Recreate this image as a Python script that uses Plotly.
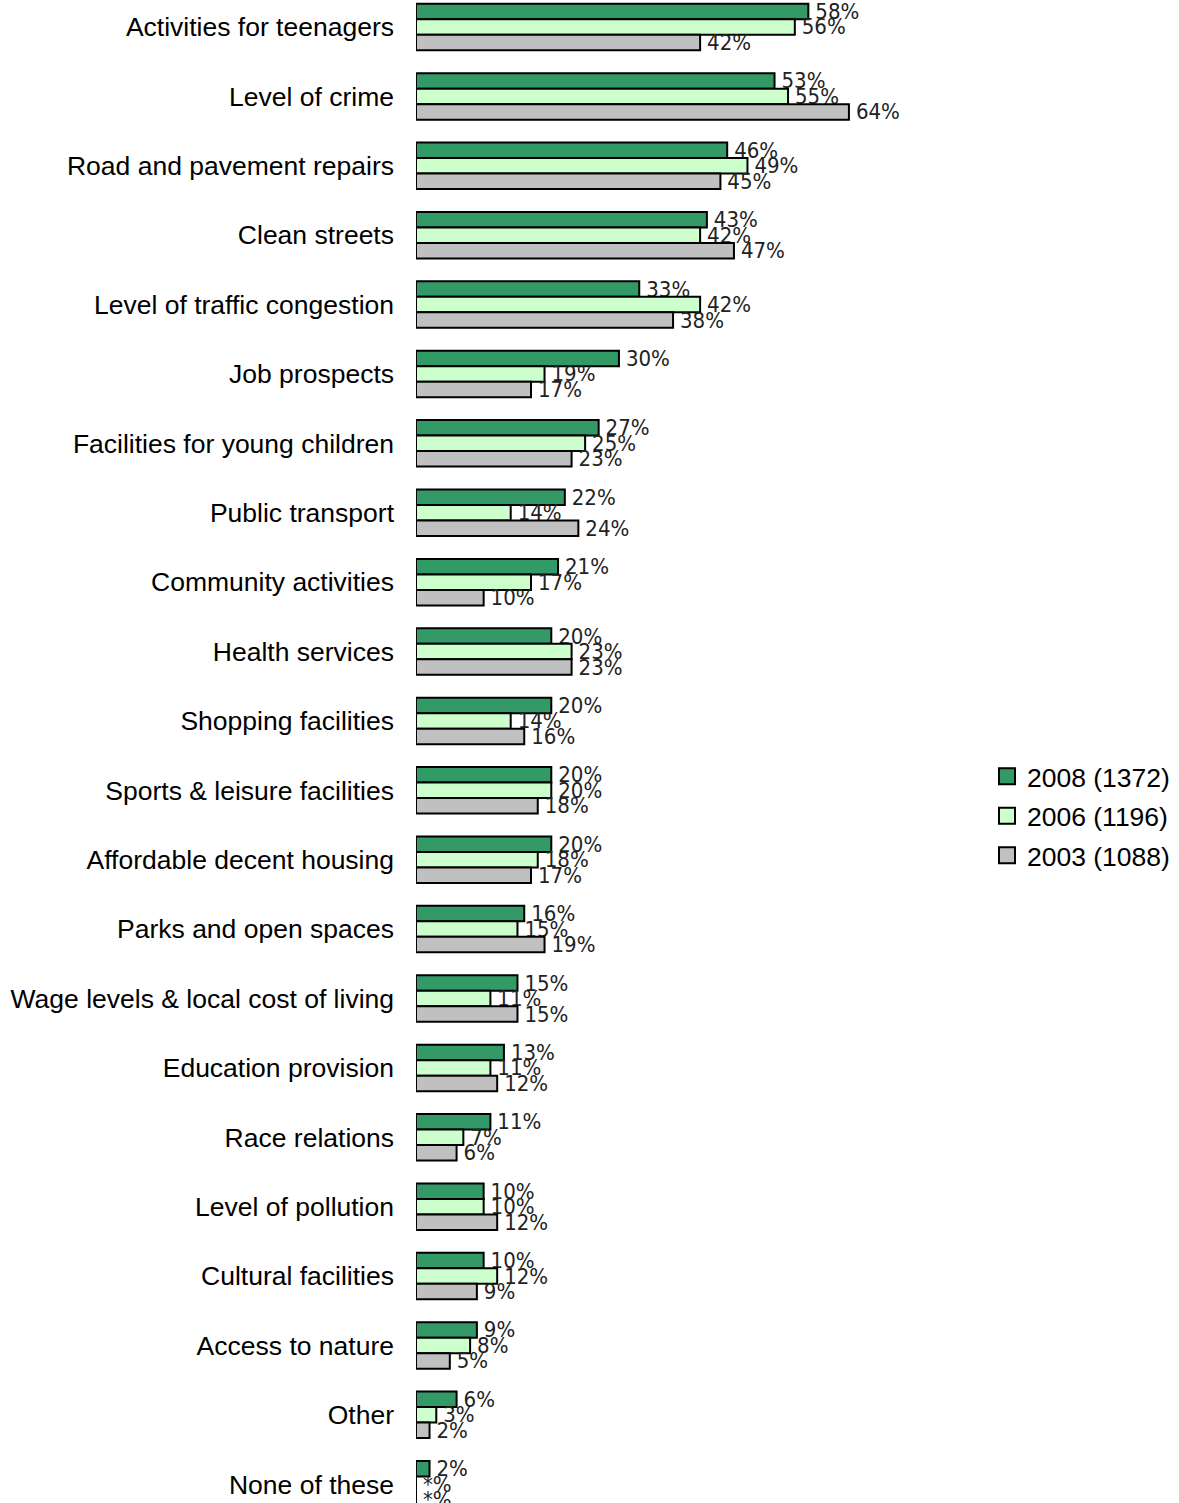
import plotly.graph_objects as go

categories = [
    "Activities for teenagers", "Level of crime", "Road and pavement repairs",
    "Clean streets", "Level of traffic congestion", "Job prospects",
    "Facilities for young children", "Public transport", "Community activities",
    "Health services", "Shopping facilities", "Sports & leisure facilities",
    "Affordable decent housing", "Parks and open spaces",
    "Wage levels & local cost of living", "Education provision", "Race relations",
    "Level of pollution", "Cultural facilities", "Access to nature", "Other",
    "None of these",
]

# None = less than 0.5% (shown as "*")
v2008 = [58, 53, 46, 43, 33, 30, 27, 22, 21, 20, 20, 20, 20, 16, 15, 13, 11, 10, 10, 9, 6, 2]
v2006 = [56, 55, 49, 42, 42, 19, 25, 14, 17, 23, 14, 20, 18, 15, 11, 11, 7, 10, 12, 8, 3, None]
v2003 = [42, 64, 45, 47, 38, 17, 23, 24, 10, 23, 16, 18, 17, 19, 15, 12, 6, 12, 9, 5, 2, None]

series = [
    ("2008 (1372)", v2008, "#339966"),
    ("2006 (1196)", v2006, "#CCFFCC"),
    ("2003 (1088)", v2003, "#C0C0C0"),
]

LABEL_FONT = "Liberation Sans Narrow, DejaVu Sans Condensed, Arial Narrow, sans-serif"
MAIN_FONT = "Liberation Sans, Arial, sans-serif"

fig = go.Figure()
for name, vals, color in series:
    xs = [v if v is not None else 0 for v in vals]
    txt = ["\u2009" + (f"{v}%" if v is not None else "*%") for v in vals]
    fig.add_trace(go.Bar(
        y=categories, x=xs, name=name, orientation="h",
        marker=dict(color=color, line=dict(color="#000000", width=2)),
        text=txt, textposition="outside", cliponaxis=False,
        constraintext="none", textangle=0,
        textfont=dict(family=LABEL_FONT, size=22, color="#222222"),
        showlegend=False,
    ))

# legend entries with larger outlined square swatches
for i, (name, vals, color) in enumerate(series):
    fig.add_trace(go.Scatter(
        x=[None], y=[None], mode="markers", name=name,
        marker=dict(symbol="square", size=16, color=color,
                    line=dict(color="#000000", width=2)),
        legendgroup=f"g{i}", showlegend=True,
    ))

fig.update_layout(
    width=1179, height=1503,
    margin=dict(l=416, r=188, t=0, b=0),
    paper_bgcolor="white", plot_bgcolor="white",
    barmode="group", bargap=0.33, bargroupgap=0,
    font=dict(family=MAIN_FONT, size=26.5, color="#000000"),
    showlegend=True,
    legend=dict(
        x=0.993, y=0.457, xanchor="left", yanchor="middle",
        font=dict(family=MAIN_FONT, size=26.5, color="#000000"),
        tracegroupgap=2, bgcolor="rgba(0,0,0,0)",
        itemsizing="trace",
    ),
    xaxis=dict(range=[0, 85], showgrid=False, showticklabels=False, zeroline=False,
               showline=False, ticks=""),
    yaxis=dict(range=[21.27, -0.389], showgrid=False, ticks="", showline=False,
               ticklabelstandoff=21,
               tickfont=dict(family=MAIN_FONT, size=26.5, color="#000000")),
)

fig.write_html("out.html")
